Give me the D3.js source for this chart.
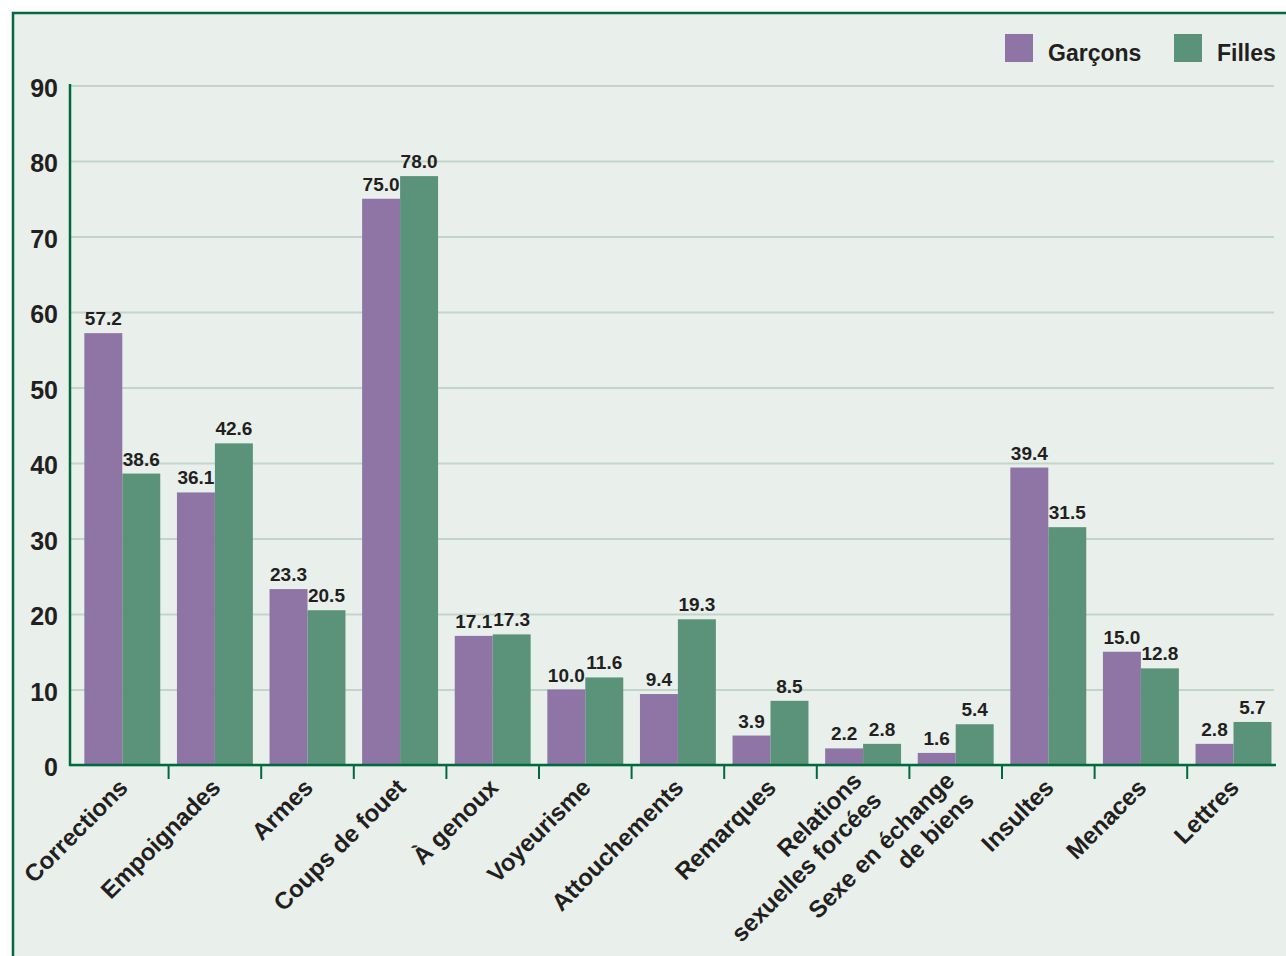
<!DOCTYPE html>
<html>
<head>
<meta charset="utf-8">
<script src="https://cdn.jsdelivr.net/npm/d3@7"></script>
<style>
  body { margin: 0; background: #fff; }
  text { font-family: "Liberation Sans", Arial, Helvetica, sans-serif; font-weight: bold; fill: #231f20; }
</style>
</head>
<body>
<div id="chart"></div>
<script>
// Data
var categories = ["Corrections", "Empoignades", "Armes", "Coups de fouet", "À genoux", "Voyeurisme",
    "Attouchements", "Remarques", "Relations\nsexuelles forcées", "Sexe en échange\nde biens",
    "Insultes", "Menaces", "Lettres"];
var garcons = [57.2, 36.1, 23.3, 75.0, 17.1, 10.0, 9.4, 3.9, 2.2, 1.6, 39.4, 15.0, 2.8];
var filles = [38.6, 42.6, 20.5, 78.0, 17.3, 11.6, 19.3, 8.5, 2.8, 5.4, 31.5, 12.8, 5.7];
var seriesNames = ["Garçons", "Filles"];
var yTicks = [0, 10, 20, 30, 40, 50, 60, 70, 80, 90];

var svgWidth = 1286;
var svgHeight = 956;
var colors = ["#8e75a6", "#5a9379"];
var axisColor = "#00693e";

var svg = d3.select("#chart")
    .append("svg")
    .attr("width", svgWidth)
    .attr("height", svgHeight);

// background panel with its dark green frame on top and left
svg.append("rect")
    .attr("x", 13).attr("y", 13)
    .attr("width", svgWidth - 13).attr("height", svgHeight - 13)
    .attr("fill", "#e9f0eb");
svg.append("path")
    .attr("d", `M13,${svgHeight} V13 H${svgWidth}`)
    .attr("fill", "none")
    .attr("stroke", axisColor)
    .attr("stroke-width", 2.5);

var axisLeftX = 70;
var axisRightX = 1276;
var baseY = 765;

// scales
var x = d3.scaleBand()
    .domain(categories)
    .range([76, 76 + 13 * 92.6])
    .paddingInner(0.18)
    .paddingOuter(0.09);

var xSub = d3.scaleBand()
    .domain(seriesNames)
    .range([0, x.bandwidth()]);

var y = d3.scaleLinear()
    .domain([0, 90])
    .range([baseY, 85.5]);

// gridlines + y labels
var yAxis = d3.axisLeft(y)
    .tickValues(yTicks)
    .tickSize(-(1274 - axisLeftX))
    .tickPadding(12)
    .tickFormat(d3.format("d"));

var yg = svg.append("g")
    .attr("transform", `translate(${axisLeftX},0)`)
    .call(yAxis);
yg.select(".domain").remove();
yg.selectAll(".tick line")
    .attr("stroke", "#c3d5cb")
    .attr("stroke-width", 2.2);
yg.selectAll(".tick text")
    .attr("dy", "0.42em")
    .attr("font-size", 25)
    .attr("fill", "#231f20");

// bars
var groups = svg.selectAll(".group")
    .data(categories)
    .enter()
    .append("g")
    .attr("class", "group")
    .attr("transform", d => `translate(${x(d)},0)`);

groups.selectAll("rect")
    .data((d, i) => [garcons[i], filles[i]])
    .enter()
    .append("rect")
    .attr("x", (d, j) => xSub(seriesNames[j]))
    .attr("y", d => y(d))
    .attr("width", xSub.bandwidth())
    .attr("height", d => baseY - y(d))
    .attr("fill", (d, j) => colors[j]);

// value labels
groups.selectAll(".val")
    .data((d, i) => [garcons[i], filles[i]])
    .enter()
    .append("text")
    .attr("class", "val")
    .attr("x", (d, j) => xSub(seriesNames[j]) + xSub.bandwidth() / 2)
    .attr("y", d => y(d) - 8)
    .attr("text-anchor", "middle")
    .attr("font-size", 19)
    .text(d => d.toFixed(1));

// axes lines
svg.append("line")
    .attr("x1", axisLeftX).attr("x2", axisLeftX)
    .attr("y1", 84).attr("y2", baseY + 1)
    .attr("stroke", axisColor).attr("stroke-width", 2.5);
svg.append("line")
    .attr("x1", axisLeftX - 1).attr("x2", axisRightX)
    .attr("y1", baseY).attr("y2", baseY)
    .attr("stroke", axisColor).attr("stroke-width", 2.5);

// separator ticks between groups
var gap = x.step() * x.paddingInner();
svg.selectAll(".sep")
    .data(categories.slice(1))
    .enter()
    .append("line")
    .attr("class", "sep")
    .attr("x1", d => x(d) - gap / 2)
    .attr("x2", d => x(d) - gap / 2)
    .attr("y1", baseY)
    .attr("y2", baseY + 14)
    .attr("stroke", axisColor)
    .attr("stroke-width", 2);

// category labels, rotated
var labels = svg.selectAll(".cat")
    .data(categories)
    .enter()
    .append("text")
    .attr("class", "cat")
    .attr("text-anchor", "end")
    .attr("font-size", 24)
    .attr("transform", d => `translate(${x(d) + x.bandwidth() / 2 + 7},789) rotate(-45)`);

labels.each(function(d) {
    var lines = d.split("\n");
    var t = d3.select(this);
    lines.forEach(function(line, k) {
        t.append("tspan")
            .attr("x", 0)
            .attr("dy", lines.length > 1 ? (k === 0 ? "-0.4em" : "1.15em") : 0)
            .text(line);
    });
});

// legend
var legend = svg.selectAll(".legend")
    .data(seriesNames)
    .enter()
    .append("g")
    .attr("class", "legend")
    .attr("transform", (d, i) => `translate(${[1005, 1174][i]},34)`);

legend.append("rect")
    .attr("width", 28)
    .attr("height", 28)
    .attr("fill", (d, i) => colors[i]);

legend.append("text")
    .attr("x", 43)
    .attr("y", 27)
    .attr("font-size", 23)
    .text(d => d);
</script>
</body>
</html>
